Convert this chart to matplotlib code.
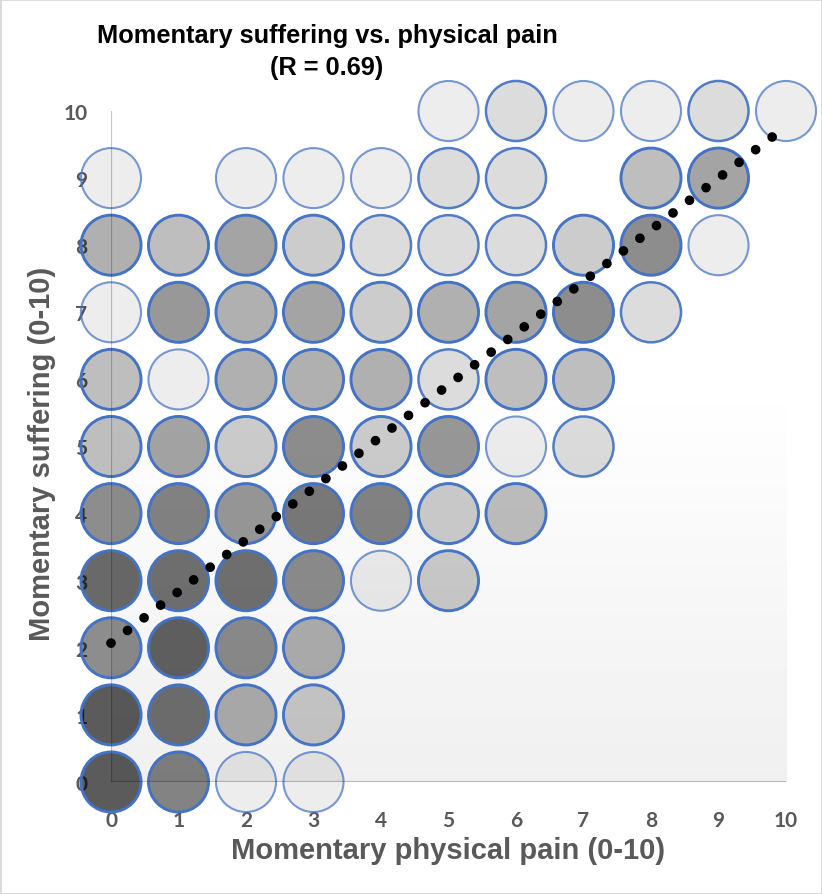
import matplotlib
matplotlib.use("Agg")
import matplotlib.pyplot as plt
import numpy as np
from matplotlib.colors import to_rgb
from matplotlib.patches import Rectangle

# number of responses at each (pain, suffering) cell
pain_x = [5, 6, 7, 8, 9, 10,
          0, 2, 3, 4, 5, 6, 8, 9,
          0, 1, 2, 3, 4, 5, 6, 7, 8, 9,
          0, 1, 2, 3, 4, 5, 6, 7, 8,
          0, 1, 2, 3, 4, 5, 6, 7,
          0, 1, 2, 3, 4, 5, 6, 7,
          0, 1, 2, 3, 4, 5, 6,
          0, 1, 2, 3, 4, 5,
          0, 1, 2, 3,
          0, 1, 2, 3,
          0, 1, 2, 3]
suffering_y = [10] * 6 + [9] * 8 + [8] * 10 + [7] * 9 + [6] * 8 + [5] * 8 \
    + [4] * 7 + [3] * 6 + [2] * 4 + [1] * 4 + [0] * 4
counts = [1, 2, 1, 1, 2, 1,
          1, 1, 1, 1, 2, 2, 4, 6,
          5, 4, 6, 3, 2, 2, 2, 3, 8, 1,
          1, 7, 5, 6, 3, 5, 6, 8, 2,
          4, 1, 5, 5, 5, 2, 4, 4,
          4, 6, 3, 8, 3, 7, 1, 2,
          8, 9, 7, 10, 9, 3, 4,
          12, 11, 11, 8, 1, 3,
          8, 13, 8, 5,
          14, 11, 5, 3,
          14, 9, 1, 1]

ticks = list(range(0, 11))
title = "Momentary suffering vs. physical pain"
subtitle = "(R = 0.69)"
x_label = "Momentary physical pain (0-10)"
y_label = "Momentary suffering (0-10)"
trend_intercept = 2.07
trend_slope = 0.77
trend_x_end = 9.82

FILL_ALPHA = 0.071
EDGE_ALPHA = 0.72
EDGE_BLUE = "#4472c4"
LABEL_GRAY = "#595959"

fig = plt.figure(figsize=(8.22, 8.95), dpi=100)
ax = fig.add_axes([111 / 822, 1 - 783 / 895, 675 / 822, 671 / 895])
ax.set_xlim(0, 10)
ax.set_ylim(0, 10)
ax.set_axisbelow(True)

# soft grey gradient towards the bottom of the plot area
grad = np.linspace(0, 1, 200)[:, None]
shade = 1 - 0.06 * np.clip((grad - 0.4) / 0.6, 0, 1)
ax.imshow(np.repeat(shade, 2, axis=1), cmap="gray", vmin=0, vmax=1,
          extent=[0, 10, 0, 10], origin="upper", aspect="auto", zorder=0)

# stacked translucent markers: darkness grows with count
n = np.array(counts)
face = np.zeros((len(n), 4))
face[:, 3] = 1 - (1 - FILL_ALPHA) ** n
edge = np.zeros((len(n), 4))
edge[:, :3] = to_rgb(EDGE_BLUE)
edge[:, 3] = 1 - (1 - EDGE_ALPHA) ** n
widths = 1.2 + 0.3 * np.minimum(n, 3)
ax.scatter(pain_x, suffering_y, s=1870, facecolors=face, edgecolors=edge,
           linewidths=widths, zorder=2, clip_on=False)

tx = np.array([0, trend_x_end])
ax.plot(tx, trend_intercept + trend_slope * tx, color="black", linewidth=7,
        dashes=(0.001, 2.14), dash_capstyle="round", zorder=3, clip_on=False)

ax.axvline(0, color="black", alpha=0.22, linewidth=1.6, zorder=4)
ax.axhline(0, color="black", alpha=0.22, linewidth=1.6, zorder=4)

for side in ["top", "right", "left", "bottom"]:
    ax.spines[side].set_visible(False)
ax.set_xticks(ticks)
ax.set_yticks(ticks)
ax.tick_params(length=0, labelsize=15, labelcolor=LABEL_GRAY)
ax.tick_params(axis="x", pad=20)
ax.tick_params(axis="y", pad=17)
for lab in ax.get_xticklabels() + ax.get_yticklabels():
    lab.set_fontfamily(["Lato", "DejaVu Sans"])
    lab.set_fontweight("bold")

title_font = ["Liberation Sans", "DejaVu Sans"]
fig.text(327 / 822, 1 - 43 / 895, title, ha="center", va="baseline",
         fontsize=18.3, fontweight="bold", family=title_font)
fig.text(327 / 822, 1 - 75 / 895, subtitle, ha="center", va="baseline",
         fontsize=18.3, fontweight="bold", family=title_font)
fig.text(448 / 822, 1 - 859 / 895, x_label, ha="center", va="baseline",
         fontsize=21, fontweight="bold", color=LABEL_GRAY,
         family=["Liberation Sans", "DejaVu Sans"])
fig.text(42 / 822, 1 - 454 / 895, y_label, ha="center", va="center",
         rotation=90, fontsize=21, fontweight="bold", color=LABEL_GRAY,
         family=["Liberation Sans", "DejaVu Sans"])

fig.add_artist(Rectangle((0, 0), 1, 1, transform=fig.transFigure, fill=False,
                         edgecolor="#d9d9d9", linewidth=2))

fig.savefig("out.png", dpi=100)
